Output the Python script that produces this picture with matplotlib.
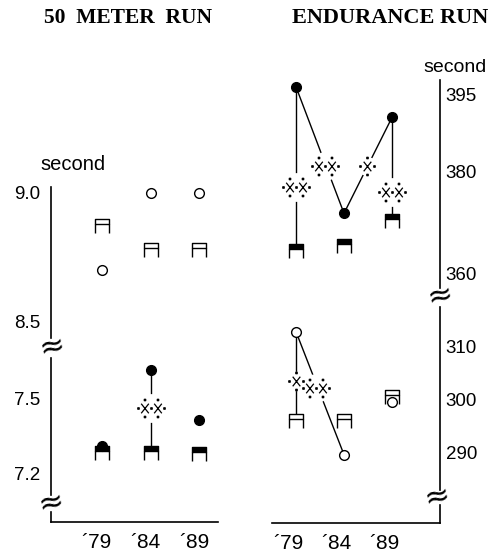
import matplotlib
matplotlib.use("Agg")
import matplotlib.pyplot as plt
from matplotlib.path import Path
from matplotlib.transforms import ScaledTranslation

W, H, DPI = 496, 556, 100

YEARS = [79, 84, 89]
YEAR_LABELS = ["\u00b479", "\u00b484", "\u00b489"]

# 50 meter run (second): open marks = upper block, filled marks = lower block
run50_open_circle = [8.70, 9.00, 9.00]
run50_open_stool = [8.87, 8.78, 8.78]
run50_fill_circle = [7.31, 7.61, 7.41]
run50_fill_stool = [7.28, 7.28, 7.275]
run50_ticks_top = [9.0, 8.5]
run50_ticks_bot = [7.5, 7.2]
run50_sig_x = [84]
run50_sig_y = [7.46]
run50_sig_n = [2]

# endurance run (second): filled marks = upper block, open marks = lower block
endu_fill_circle = [396.6, 371.8, 390.6]
endu_fill_stool = [364.4, 365.3, 370.2]
endu_open_circle = [312.9, 289.5, 299.6]
endu_open_stool = [296.0, 296.0, 300.4]
endu_ticks_top = [395, 380, 360]
endu_ticks_bot = [310, 300, 290]
endu_sig_top_x = [79, 82.0, 86.4, 89]
endu_sig_top_y = [377, 381, 381, 376]
endu_sig_top_n = [2, 2, 1, 2]
endu_sig_bot_x = [79, 81.1]
endu_sig_bot_y = [303.5, 302.2]
endu_sig_bot_n = [1, 2]

# connecting lines: (series a, year index, series b, year index)
run50_links = [(run50_fill_circle, 1, run50_fill_stool, 1)]
endu_top_links = [(endu_fill_circle, 0, endu_fill_stool, 0),
                  (endu_fill_circle, 0, endu_fill_circle, 1),
                  (endu_fill_circle, 1, endu_fill_circle, 2),
                  (endu_fill_circle, 2, endu_fill_stool, 2)]
endu_bot_links = [(endu_open_circle, 0, endu_open_stool, 0),
                  (endu_open_circle, 0, endu_open_circle, 1)]

M, L, C = Path.MOVETO, Path.LINETO, Path.CLOSEPOLY


def stool_path():
    verts = [(-1, 1), (1, 1), (1, 0.3), (-1, 0.3), (-1, 1),
             (-1, 0.3), (-1, -1), (1, 0.3), (1, -1)]
    codes = [M, L, L, L, C, M, L, M, L]
    return Path(verts, codes)


def sig_path(n):
    # "X" marks with little dots round them, built in pixel units
    ax_, ay_, step = 3.8, 4.8, 6.5
    centers = [0.0] if n == 1 else [-step, step]
    verts, codes = [], []
    for cx in centers:
        verts += [(cx - ax_, -ay_), (cx + ax_, ay_), (cx - ax_, ay_), (cx + ax_, -ay_)]
        codes += [M, L, M, L]
    dots = [(cx, s * 8.5) for cx in centers for s in (-1, 1)]
    if n == 1:
        dots += [(-7.0, 0), (7.0, 0)]
    else:
        dots += [(-13.0, 0), (0.0, 0), (13.0, 0)]
    d = 0.7
    for x, y in dots:
        verts += [(x - d, y - d), (x + d, y - d), (x + d, y + d), (x - d, y + d), (x - d, y - d)]
        codes += [M, L, L, L, C]
    ext = max(max(abs(x), abs(y)) for x, y in verts)
    return Path(verts, codes), 2 * ext * 72 / DPI


STOOL = stool_path()
STOOL_MS = 10


def box(x0, y0, x1, y1):
    return [x0 / W, 1 - y1 / H, (x1 - x0) / W, (y1 - y0) / H]


def plain(ax):
    for s in ax.spines.values():
        s.set_visible(False)
    ax.set_xticks([])
    ax.tick_params(length=0)


def marks(ax, circle, stool, filled):
    fc = "black" if filled else "white"
    ax.plot(YEARS, stool, ls="none", marker="s", ms=STOOL_MS * 0.95, mfc="white",
            mec="none", zorder=3)
    ax.plot(YEARS, stool, ls="none", marker=STOOL, ms=STOOL_MS, mfc=fc, mec="black",
            mew=1.0, zorder=4)
    ax.plot(YEARS, circle, ls="none", marker="o", ms=7, mfc=fc, mec="black",
            mew=1.0, zorder=5)


def links(ax, pairs):
    for a, i, b, j in pairs:
        ax.plot([YEARS[i], YEARS[j]], [a[i], b[j]], color="black", lw=1.0, zorder=1)


def sigs(ax, xs, ys, ns):
    for x, y, n in zip(xs, ys, ns):
        p, ms = sig_path(n)
        ax.plot([x], [y], ls="none", marker="o", ms=ms * 1.05, mfc="white",
                mec="none", zorder=2)
        ax.plot([x], [y], ls="none", marker=p, ms=ms, mfc="black", mec="black",
                mew=0.9, zorder=3)


def shift_labels(ax, px):
    off = ScaledTranslation(px / DPI, 0, fig.dpi_scale_trans)
    for lab in ax.get_xticklabels():
        lab.set_transform(lab.get_transform() + off)


fig = plt.figure(figsize=(W / DPI, H / DPI), dpi=DPI)
plt.rcParams["font.family"] = ["Liberation Sans", "DejaVu Sans"]

# ---- 50 meter run
lt = fig.add_axes(box(51, 187, 218, 338))
lb = fig.add_axes(box(51, 358, 218, 522))
for ax in (lt, lb):
    plain(ax)
    ax.set_xlim(73.8, 90.9)
lt.set_ylim(8.438, 9.023)
lb.set_ylim(7.004, 7.66)
lt.spines["left"].set_visible(True)
lt.spines["left"].set_linewidth(1.2)
lb.spines["bottom"].set_visible(True)
lb.spines["bottom"].set_linewidth(1.2)
for ax, ticks in ((lt, run50_ticks_top), (lb, run50_ticks_bot)):
    ax.set_yticks(ticks)
    ax.set_yticklabels([f"{v:.1f}" for v in ticks])
    ax.tick_params(axis="y", length=0, pad=8, labelsize=13.5)
lb.set_xticks(YEARS)
lb.set_xticklabels(YEAR_LABELS)
lb.tick_params(axis="x", length=0, pad=8, labelsize=15)
shift_labels(lb, -5)
k = dict(color="black", lw=1.2, transform=lb.transAxes, clip_on=False)
lb.plot([0, 0], [1, 0.165], **k)
lb.plot([0, 0], [0.061, 0], **k)

marks(lt, run50_open_circle, run50_open_stool, False)
links(lb, run50_links)
sigs(lb, run50_sig_x, run50_sig_y, run50_sig_n)
marks(lb, run50_fill_circle, run50_fill_stool, True)

# ---- endurance run
rt = fig.add_axes(box(272, 80, 440, 288))
rb = fig.add_axes(box(272, 307, 440, 523))
for ax in (rt, rb):
    plain(ax)
    ax.set_xlim(76.5, 94.0)
    ax.yaxis.tick_right()
rt.set_ylim(357.16, 397.94)
rb.set_ylim(276.5, 317.6)
rt.spines["right"].set_visible(True)
rt.spines["right"].set_linewidth(1.2)
rb.spines["bottom"].set_visible(True)
rb.spines["bottom"].set_linewidth(1.2)
for ax, ticks in ((rt, endu_ticks_top), (rb, endu_ticks_bot)):
    ax.set_yticks(ticks)
    ax.set_yticklabels([str(v) for v in ticks])
    ax.tick_params(axis="y", length=0, pad=4, labelsize=13.5)
rb.set_xticks(YEARS)
rb.set_xticklabels(YEAR_LABELS)
rb.tick_params(axis="x", length=0, pad=8, labelsize=15)
shift_labels(rb, -8)
k = dict(color="black", lw=1.2, transform=rb.transAxes, clip_on=False)
rb.plot([1, 1], [1, 0.153], **k)
rb.plot([1, 1], [0.083, 0], **k)

links(rt, endu_top_links)
sigs(rt, endu_sig_top_x, endu_sig_top_y, endu_sig_top_n)
marks(rt, endu_fill_circle, endu_fill_stool, True)
links(rb, endu_bot_links)
sigs(rb, endu_sig_bot_x, endu_sig_bot_y, endu_sig_bot_n)
marks(rb, endu_open_circle, endu_open_stool, False)

# axis break marks
for px, py in ((52, 347), (51, 503), (440, 296), (437, 497)):
    fig.text(px / W, 1 - py / H, "\u2248", fontsize=22, ha="center", va="center",
             rotation=12, family=["DejaVu Sans"])

fig.text(73 / W, 1 - 165 / H, "second", fontsize=14.5, ha="center", va="center")
fig.text(455 / W, 1 - 68 / H, "second", fontsize=14, ha="center", va="center")
fig.text(128 / W, 1 - 18 / H, "50  METER  RUN", fontsize=15.5, ha="center", va="center",
         family="Liberation Serif", weight="bold")
fig.text(390 / W, 1 - 18 / H, "ENDURANCE RUN", fontsize=16, ha="center", va="center",
         family="Liberation Serif", weight="bold")

fig.savefig("out.png", dpi=DPI)
